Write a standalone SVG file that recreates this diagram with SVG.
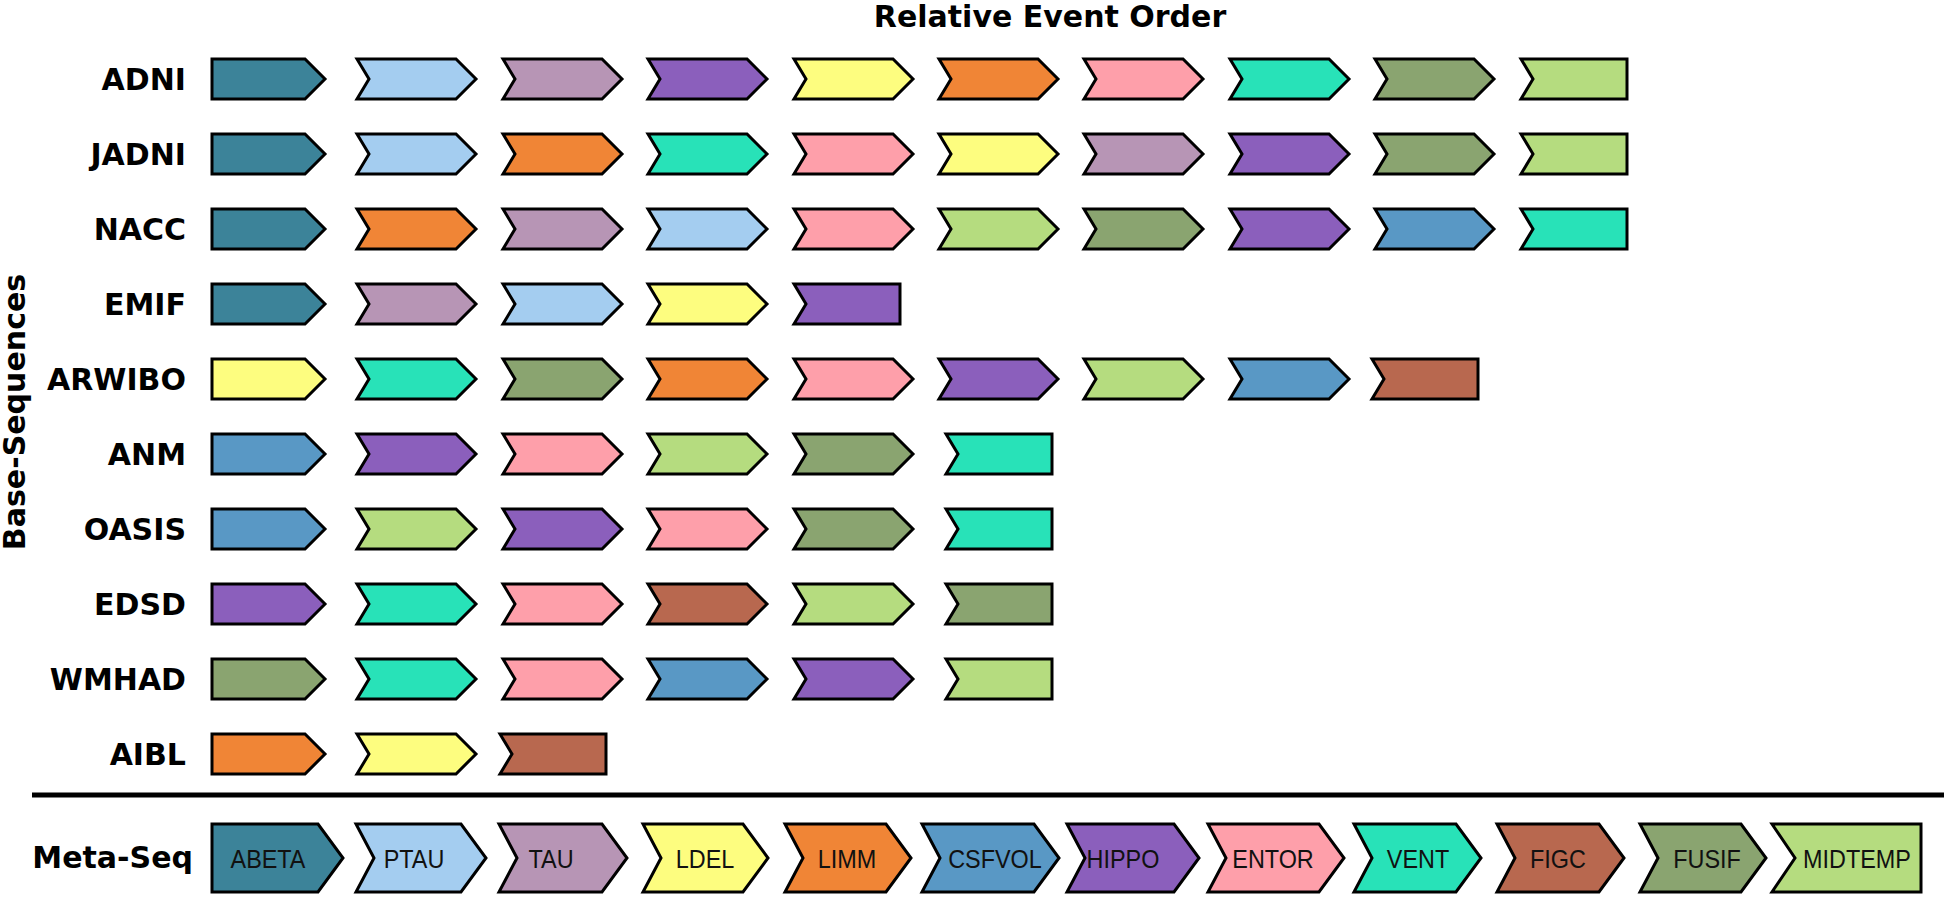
<svg xmlns="http://www.w3.org/2000/svg" xmlns:xlink="http://www.w3.org/1999/xlink" width="1944" height="897" viewBox="0 0 1944 897">
<style>
.lbl{font-family:"DejaVu Sans",sans-serif;font-weight:bold;font-size:30px;fill:#000}
.end{text-anchor:end}
.mid{text-anchor:middle}
.mt{font-family:"Liberation Sans",Arial,sans-serif;font-size:26px;fill:#111;text-anchor:middle}
.bx{stroke:#000;stroke-width:3;stroke-linejoin:miter}
.abeta{fill:#3c8399}.ptau{fill:#a4cdf0}.tau{fill:#b795b5}.ldel{fill:#fdfd7f}
.limm{fill:#f08536}.csfvol{fill:#5998c5}.hippo{fill:#8b5fbc}.entor{fill:#fe9faa}
.vent{fill:#28e2b8}.figc{fill:#b8684f}.fusif{fill:#8aa470}.midtemp{fill:#b5dc7f}
</style>
<defs>
<polygon id="first" class="bx" points="0,-20 93,-20 113,0 93,20 0,20"/>
<polygon id="midb" class="bx" points="0,-20 99,-20 119,0 99,20 0,20 12,0"/>
<polygon id="last" class="bx" points="0,-20 106,-20 106,20 0,20 12,0"/>
</defs>
<rect width="1944" height="897" fill="#fff"/>
<text class="lbl mid" x="1050" y="27">Relative Event Order</text>
<text class="lbl mid" transform="translate(25,412) rotate(-90)">Base-Sequences</text>

<g id="labels">
<text class="lbl end" x="186" y="90">ADNI</text>
<text class="lbl end" x="186" y="165">JADNI</text>
<text class="lbl end" x="186" y="240">NACC</text>
<text class="lbl end" x="186" y="315">EMIF</text>
<text class="lbl end" x="186" y="390">ARWIBO</text>
<text class="lbl end" x="186" y="465">ANM</text>
<text class="lbl end" x="186" y="540">OASIS</text>
<text class="lbl end" x="186" y="615">EDSD</text>
<text class="lbl end" x="186" y="690">WMHAD</text>
<text class="lbl end" x="186" y="765">AIBL</text>
<text class="lbl end" x="193" y="868">Meta-Seq</text>
</g>

<g id="row-adni">
<g id="adni-1"><use href="#first" x="212" y="79" class="abeta"/></g>
<g id="adni-2"><use href="#midb" x="357" y="79" class="ptau"/></g>
<g id="adni-3"><use href="#midb" x="503" y="79" class="tau"/></g>
<g id="adni-4"><use href="#midb" x="648" y="79" class="hippo"/></g>
<g id="adni-5"><use href="#midb" x="794" y="79" class="ldel"/></g>
<g id="adni-6"><use href="#midb" x="939" y="79" class="limm"/></g>
<g id="adni-7"><use href="#midb" x="1084" y="79" class="entor"/></g>
<g id="adni-8"><use href="#midb" x="1230" y="79" class="vent"/></g>
<g id="adni-9"><use href="#midb" x="1375" y="79" class="fusif"/></g>
<g id="adni-10"><use href="#last" x="1521" y="79" class="midtemp"/></g>
</g>

<g id="row-jadni">
<g id="jadni-1"><use href="#first" x="212" y="154" class="abeta"/></g>
<g id="jadni-2"><use href="#midb" x="357" y="154" class="ptau"/></g>
<g id="jadni-3"><use href="#midb" x="503" y="154" class="limm"/></g>
<g id="jadni-4"><use href="#midb" x="648" y="154" class="vent"/></g>
<g id="jadni-5"><use href="#midb" x="794" y="154" class="entor"/></g>
<g id="jadni-6"><use href="#midb" x="939" y="154" class="ldel"/></g>
<g id="jadni-7"><use href="#midb" x="1084" y="154" class="tau"/></g>
<g id="jadni-8"><use href="#midb" x="1230" y="154" class="hippo"/></g>
<g id="jadni-9"><use href="#midb" x="1375" y="154" class="fusif"/></g>
<g id="jadni-10"><use href="#last" x="1521" y="154" class="midtemp"/></g>
</g>

<g id="row-nacc">
<g id="nacc-1"><use href="#first" x="212" y="229" class="abeta"/></g>
<g id="nacc-2"><use href="#midb" x="357" y="229" class="limm"/></g>
<g id="nacc-3"><use href="#midb" x="503" y="229" class="tau"/></g>
<g id="nacc-4"><use href="#midb" x="648" y="229" class="ptau"/></g>
<g id="nacc-5"><use href="#midb" x="794" y="229" class="entor"/></g>
<g id="nacc-6"><use href="#midb" x="939" y="229" class="midtemp"/></g>
<g id="nacc-7"><use href="#midb" x="1084" y="229" class="fusif"/></g>
<g id="nacc-8"><use href="#midb" x="1230" y="229" class="hippo"/></g>
<g id="nacc-9"><use href="#midb" x="1375" y="229" class="csfvol"/></g>
<g id="nacc-10"><use href="#last" x="1521" y="229" class="vent"/></g>
</g>

<g id="row-emif">
<g id="emif-1"><use href="#first" x="212" y="304" class="abeta"/></g>
<g id="emif-2"><use href="#midb" x="357" y="304" class="tau"/></g>
<g id="emif-3"><use href="#midb" x="503" y="304" class="ptau"/></g>
<g id="emif-4"><use href="#midb" x="648" y="304" class="ldel"/></g>
<g id="emif-5"><use href="#last" x="794" y="304" class="hippo"/></g>
</g>

<g id="row-arwibo">
<g id="arwibo-1"><use href="#first" x="212" y="379" class="ldel"/></g>
<g id="arwibo-2"><use href="#midb" x="357" y="379" class="vent"/></g>
<g id="arwibo-3"><use href="#midb" x="503" y="379" class="fusif"/></g>
<g id="arwibo-4"><use href="#midb" x="648" y="379" class="limm"/></g>
<g id="arwibo-5"><use href="#midb" x="794" y="379" class="entor"/></g>
<g id="arwibo-6"><use href="#midb" x="939" y="379" class="hippo"/></g>
<g id="arwibo-7"><use href="#midb" x="1084" y="379" class="midtemp"/></g>
<g id="arwibo-8"><use href="#midb" x="1230" y="379" class="csfvol"/></g>
<g id="arwibo-9"><use href="#last" x="1372" y="379" class="figc"/></g>
</g>

<g id="row-anm">
<g id="anm-1"><use href="#first" x="212" y="454" class="csfvol"/></g>
<g id="anm-2"><use href="#midb" x="357" y="454" class="hippo"/></g>
<g id="anm-3"><use href="#midb" x="503" y="454" class="entor"/></g>
<g id="anm-4"><use href="#midb" x="648" y="454" class="midtemp"/></g>
<g id="anm-5"><use href="#midb" x="794" y="454" class="fusif"/></g>
<g id="anm-6"><use href="#last" x="946" y="454" class="vent"/></g>
</g>

<g id="row-oasis">
<g id="oasis-1"><use href="#first" x="212" y="529" class="csfvol"/></g>
<g id="oasis-2"><use href="#midb" x="357" y="529" class="midtemp"/></g>
<g id="oasis-3"><use href="#midb" x="503" y="529" class="hippo"/></g>
<g id="oasis-4"><use href="#midb" x="648" y="529" class="entor"/></g>
<g id="oasis-5"><use href="#midb" x="794" y="529" class="fusif"/></g>
<g id="oasis-6"><use href="#last" x="946" y="529" class="vent"/></g>
</g>

<g id="row-edsd">
<g id="edsd-1"><use href="#first" x="212" y="604" class="hippo"/></g>
<g id="edsd-2"><use href="#midb" x="357" y="604" class="vent"/></g>
<g id="edsd-3"><use href="#midb" x="503" y="604" class="entor"/></g>
<g id="edsd-4"><use href="#midb" x="648" y="604" class="figc"/></g>
<g id="edsd-5"><use href="#midb" x="794" y="604" class="midtemp"/></g>
<g id="edsd-6"><use href="#last" x="946" y="604" class="fusif"/></g>
</g>

<g id="row-wmhad">
<g id="wmhad-1"><use href="#first" x="212" y="679" class="fusif"/></g>
<g id="wmhad-2"><use href="#midb" x="357" y="679" class="vent"/></g>
<g id="wmhad-3"><use href="#midb" x="503" y="679" class="entor"/></g>
<g id="wmhad-4"><use href="#midb" x="648" y="679" class="csfvol"/></g>
<g id="wmhad-5"><use href="#midb" x="794" y="679" class="hippo"/></g>
<g id="wmhad-6"><use href="#last" x="946" y="679" class="midtemp"/></g>
</g>

<g id="row-aibl">
<g id="aibl-1"><use href="#first" x="212" y="754" class="limm"/></g>
<g id="aibl-2"><use href="#midb" x="357" y="754" class="ldel"/></g>
<g id="aibl-3"><use href="#last" x="500" y="754" class="figc"/></g>
</g>

<line id="divider" x1="32" y1="795" x2="1944" y2="795" stroke="#000" stroke-width="5"/>

<g id="row-meta">
<g id="meta-abeta"><polygon class="bx abeta" points="212,824 318,824 343,858 318,892 212,892"/><text class="mt" transform="translate(268,868) scale(0.9,1)">ABETA</text></g>
<g id="meta-ptau"><polygon class="bx ptau" points="356,824 461,824 486,858 461,892 356,892 374,858"/><text class="mt" transform="translate(414,868) scale(0.9,1)">PTAU</text></g>
<g id="meta-tau"><polygon class="bx tau" points="499,824 602,824 627,858 602,892 499,892 517,858"/><text class="mt" transform="translate(551,868) scale(0.9,1)">TAU</text></g>
<g id="meta-ldel"><polygon class="bx ldel" points="643,824 743,824 768,858 743,892 643,892 661,858"/><text class="mt" transform="translate(705,868) scale(0.9,1)">LDEL</text></g>
<g id="meta-limm"><polygon class="bx limm" points="785,824 886,824 911,858 886,892 785,892 803,858"/><text class="mt" transform="translate(847,868) scale(0.9,1)">LIMM</text></g>
<g id="meta-csfvol"><polygon class="bx csfvol" points="922,824 1034,824 1059,858 1034,892 922,892 940,858"/><text class="mt" transform="translate(995,868) scale(0.9,1)">CSFVOL</text></g>
<g id="meta-hippo"><polygon class="bx hippo" points="1067,824 1174,824 1199,858 1174,892 1067,892 1085,858"/><text class="mt" transform="translate(1123,868) scale(0.9,1)">HIPPO</text></g>
<g id="meta-entor"><polygon class="bx entor" points="1208,824 1319,824 1344,858 1319,892 1208,892 1226,858"/><text class="mt" transform="translate(1273,868) scale(0.9,1)">ENTOR</text></g>
<g id="meta-vent"><polygon class="bx vent" points="1354,824 1456,824 1481,858 1456,892 1354,892 1372,858"/><text class="mt" transform="translate(1418,868) scale(0.9,1)">VENT</text></g>
<g id="meta-figc"><polygon class="bx figc" points="1497,824 1599,824 1624,858 1599,892 1497,892 1515,858"/><text class="mt" transform="translate(1558,868) scale(0.9,1)">FIGC</text></g>
<g id="meta-fusif"><polygon class="bx fusif" points="1640,824 1741,824 1766,858 1741,892 1640,892 1658,858"/><text class="mt" transform="translate(1707,868) scale(0.9,1)">FUSIF</text></g>
<g id="meta-midtemp"><polygon class="bx midtemp" points="1772,824 1921,824 1921,892 1772,892 1795,858"/><text class="mt" transform="translate(1857,868) scale(0.9,1)">MIDTEMP</text></g>
</g>
</svg>
